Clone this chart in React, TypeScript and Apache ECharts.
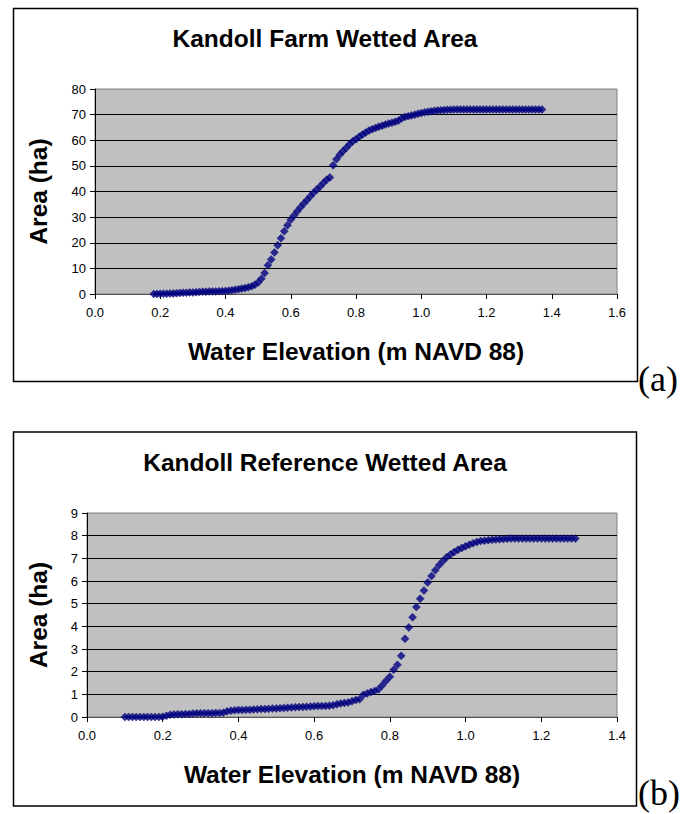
import React, { useEffect, useRef } from "react";
import * as echarts from "echarts";

// ---- Data: chart (a) Kandoll Farm ----
const elevA = [
  0.18, 0.19, 0.2, 0.21, 0.22, 0.23, 0.24, 0.25, 0.26, 0.27, 0.28, 0.29, 0.3, 0.31, 0.32, 0.33, 0.34, 0.35, 0.36, 0.37,
  0.38, 0.39, 0.4, 0.41, 0.42, 0.43, 0.44, 0.45, 0.46, 0.47, 0.48, 0.49, 0.5, 0.51, 0.52, 0.53, 0.54, 0.55, 0.56, 0.57,
  0.58, 0.59, 0.6, 0.61, 0.62, 0.63, 0.64, 0.65, 0.66, 0.67, 0.68, 0.69, 0.7, 0.71, 0.72, 0.73, 0.74, 0.75, 0.76, 0.77,
  0.78, 0.79, 0.8, 0.81, 0.82, 0.83, 0.84, 0.85, 0.86, 0.87, 0.88, 0.89, 0.9, 0.91, 0.92, 0.93, 0.94, 0.95, 0.96, 0.97,
  0.98, 0.99, 1.0, 1.01, 1.02, 1.03, 1.04, 1.05, 1.06, 1.07, 1.08, 1.09, 1.1, 1.11, 1.12, 1.13, 1.14, 1.15, 1.16, 1.17,
  1.18, 1.19, 1.2, 1.21, 1.22, 1.23, 1.24, 1.25, 1.26, 1.27, 1.28, 1.29, 1.3, 1.31, 1.32, 1.33, 1.34, 1.35, 1.36, 1.37,
];
const areaA = [
  0, 0, 0.1, 0.1, 0.1, 0.2, 0.2, 0.3, 0.4, 0.5, 0.5, 0.6, 0.6, 0.7, 0.8, 0.9, 0.9, 1.0, 1.0, 1.0,
  1.1, 1.1, 1.2, 1.3, 1.5, 1.7, 1.9, 2.1, 2.3, 2.6, 3.0, 3.6, 4.5, 6.0, 8.2, 11.2, 13.5, 16.2, 19.0, 21.8,
  24.5, 26.8, 29.0, 30.6, 32.3, 33.9, 35.3, 36.7, 38.1, 39.5, 40.8, 42.0, 43.3, 44.6, 45.5, 50.2, 52.6, 54.3, 55.7, 57.0,
  58.4, 59.6, 60.4, 61.4, 62.2, 63.0, 63.8, 64.3, 64.8, 65.3, 65.7, 66.1, 66.5, 66.8, 67.2, 67.6, 68.6, 69.1, 69.4, 69.7,
  70.0, 70.3, 70.6, 70.9, 71.1, 71.3, 71.5, 71.6, 71.7, 71.8, 71.9, 71.9, 72.0, 72.0, 72.0, 72.0, 72.0, 72.0, 72.0, 72.0,
  72.0, 72.0, 72.0, 72.0, 72.0, 72.0, 72.0, 72.0, 72.0, 72.0, 72.0, 72.0, 72.0, 72.0, 72.0, 72.0, 72.0, 72.0, 72.0, 72.0,
];

// ---- Data: chart (b) Kandoll Reference ----
const elevB = [
  0.1, 0.11, 0.12, 0.13, 0.14, 0.15, 0.16, 0.17, 0.18, 0.19, 0.2, 0.21, 0.22, 0.23, 0.24, 0.25, 0.26, 0.27, 0.28, 0.29,
  0.3, 0.31, 0.32, 0.33, 0.34, 0.35, 0.36, 0.37, 0.38, 0.39, 0.4, 0.41, 0.42, 0.43, 0.44, 0.45, 0.46, 0.47, 0.48, 0.49,
  0.5, 0.51, 0.52, 0.53, 0.54, 0.55, 0.56, 0.57, 0.58, 0.59, 0.6, 0.61, 0.62, 0.63, 0.64, 0.65, 0.66, 0.67, 0.68, 0.69,
  0.7, 0.71, 0.72, 0.73, 0.74, 0.75, 0.76, 0.77, 0.78, 0.79, 0.8, 0.81, 0.82, 0.83, 0.84, 0.85, 0.86, 0.87, 0.88, 0.89,
  0.9, 0.91, 0.92, 0.93, 0.94, 0.95, 0.96, 0.97, 0.98, 0.99, 1.0, 1.01, 1.02, 1.03, 1.04, 1.05, 1.06, 1.07, 1.08, 1.09,
  1.1, 1.11, 1.12, 1.13, 1.14, 1.15, 1.16, 1.17, 1.18, 1.19, 1.2, 1.21, 1.22, 1.23, 1.24, 1.25, 1.26, 1.27, 1.28, 1.29,
];
const areaB = [
  0, 0, 0, 0, 0, 0, 0, 0, 0, 0, 0.01, 0.05, 0.1, 0.11, 0.12, 0.12, 0.13, 0.13, 0.15, 0.16,
  0.16, 0.17, 0.17, 0.17, 0.18, 0.18, 0.19, 0.25, 0.28, 0.3, 0.31, 0.31, 0.32, 0.32, 0.33, 0.34, 0.35, 0.35, 0.36, 0.37,
  0.38, 0.39, 0.4, 0.41, 0.42, 0.43, 0.44, 0.44, 0.45, 0.46, 0.47, 0.48, 0.48, 0.49, 0.5, 0.52, 0.56, 0.6, 0.62, 0.64,
  0.7, 0.75, 0.78, 0.98, 1.04, 1.1, 1.15, 1.22, 1.4, 1.6, 1.78, 2.08, 2.3, 2.7, 3.45, 3.95, 4.4, 4.85, 5.22, 5.58,
  5.93, 6.22, 6.47, 6.7, 6.88, 7.05, 7.17, 7.28, 7.38, 7.46, 7.53, 7.6, 7.67, 7.72, 7.76, 7.78, 7.8, 7.82, 7.83, 7.84,
  7.85, 7.86, 7.87, 7.87, 7.87, 7.87, 7.87, 7.87, 7.87, 7.87, 7.87, 7.87, 7.87, 7.87, 7.87, 7.87, 7.87, 7.87, 7.87, 7.87,
];

// ---- Axis ranges / labels ----
const xMaxA = 1.6;
const yMaxA = 80;
const yStepA = 10;
const xMaxB = 1.4;
const yMaxB = 9;
const yStepB = 1;
const xStep = 0.2;

const titleA = "Kandoll Farm Wetted Area";
const titleB = "Kandoll Reference Wetted Area";
const xName = "Water Elevation (m NAVD 88)";
const yName = "Area (ha)";
const tagA = "(a)";
const tagB = "(b)";

const SANS = "'Liberation Sans', Arial, sans-serif";
const SERIF = "'Liberation Serif', 'Times New Roman', serif";

function xAxisCfg(gridIndex: number, max: number) {
  return {
    type: "value",
    gridIndex,
    min: 0,
    max,
    interval: xStep,
    name: xName,
    nameLocation: "middle",
    nameGap: 45,
    nameTextStyle: { fontFamily: SANS, fontSize: 24.5, fontWeight: "bold", color: "#000" },
    axisLine: { show: true, onZero: false, lineStyle: { color: "#555", width: 1 } },
    axisTick: { show: true, inside: false, length: 5, lineStyle: { color: "#000" } },
    axisLabel: {
      fontFamily: SANS,
      fontSize: 13,
      color: "#000",
      margin: 12,
      formatter: (v: number) => v.toFixed(1),
    },
    splitLine: { show: false },
  };
}

function yAxisCfg(gridIndex: number, max: number, step: number, gap: number) {
  return {
    type: "value",
    gridIndex,
    min: 0,
    max,
    interval: step,
    name: yName,
    nameLocation: "middle",
    nameGap: gap,
    nameTextStyle: { fontFamily: SANS, fontSize: 24.5, fontWeight: "bold", color: "#000" },
    axisLine: { show: true, lineStyle: { color: "#000", width: 1 } },
    axisTick: { show: true, inside: false, length: 5, lineStyle: { color: "#000" } },
    axisLabel: { fontFamily: SANS, fontSize: 13, color: "#000", margin: 9 },
    splitLine: { show: true, showMinLine: false, showMaxLine: false, lineStyle: { color: "#000", width: 1 } },
  };
}

export default function App() {
  const ref = useRef<HTMLDivElement>(null);
  useEffect(() => {
    if (!ref.current) return;
    const chart = echarts.init(ref.current, undefined, { renderer: "svg" });
    const dataA = elevA.map((x, i) => [x, areaA[i]]);
    const dataB = elevB.map((x, i) => [x, areaB[i]]);
    const marker = {
      type: "scatter",
      symbol: "diamond",
      symbolSize: 8,
      itemStyle: { color: "#000080", borderColor: "#000080", borderWidth: 0.5 },
    };
    chart.setOption({
      animation: false,
      backgroundColor: "#fff",
      grid: [
        { left: 95, top: 89, width: 522, height: 205, show: true, backgroundColor: "#C0C0C0", borderColor: "#808080", borderWidth: 1 },
        { left: 87, top: 513, width: 530, height: 204, show: true, backgroundColor: "#C0C0C0", borderColor: "#808080", borderWidth: 1 },
      ],
      xAxis: [xAxisCfg(0, xMaxA), xAxisCfg(1, xMaxB)],
      yAxis: [yAxisCfg(0, yMaxA, yStepA, 44), yAxisCfg(1, yMaxB, yStepB, 36)],
      series: [
        { ...marker, xAxisIndex: 0, yAxisIndex: 0, data: dataA },
        { ...marker, xAxisIndex: 1, yAxisIndex: 1, data: dataB },
      ],
      graphic: [
        { type: "rect", shape: { x: 13.5, y: 8.5, width: 624, height: 373 }, style: { fill: "none", stroke: "#000", lineWidth: 1.5 }, silent: true },
        { type: "rect", shape: { x: 13.5, y: 432, width: 623, height: 374 }, style: { fill: "none", stroke: "#000", lineWidth: 1.5 }, silent: true },
        { type: "text", x: 325, y: 38, style: { text: titleA, font: `bold 24.5px ${SANS}`, fill: "#000", textAlign: "center", textVerticalAlign: "middle" } },
        { type: "text", x: 325, y: 462, style: { text: titleB, font: `bold 24.5px ${SANS}`, fill: "#000", textAlign: "center", textVerticalAlign: "middle" } },
        { type: "text", x: 638, y: 379, style: { text: tagA, font: `36px ${SERIF}`, fill: "#000", textAlign: "left", textVerticalAlign: "middle" } },
        { type: "text", x: 638, y: 793, style: { text: tagB, font: `36px ${SERIF}`, fill: "#000", textAlign: "left", textVerticalAlign: "middle" } },
      ],
    });
    return () => chart.dispose();
  }, []);
  return <div ref={ref} style={{ position: "absolute", left: 0, top: 0, width: 680, height: 814 }} />;
}
